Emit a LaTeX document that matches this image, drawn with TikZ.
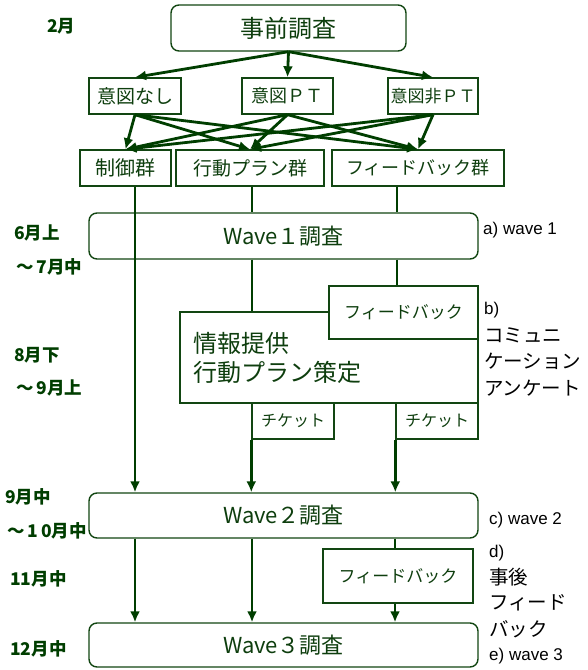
\documentclass[tikz,border=0pt]{standalone}
\usepackage{fontspec}
\newfontfamily\jp{Noto Sans CJK JP}
\newfontfamily\lat{Liberation Sans}
\usetikzlibrary{arrows.meta,calc}
\definecolor{dg}{RGB}{0,62,0}
\definecolor{bdg}{RGB}{18,70,18}
\definecolor{tg}{RGB}{14,62,14}
\begin{document}
\begin{tikzpicture}[x=1pt,y=-1pt,
  box/.style={draw=bdg, line width=1.4pt, fill=white, text=tg, inner sep=0pt, font=\jp},
  rbox/.style={box, rounded corners=8pt},
  arr/.style={draw=dg, line width=2.8pt, -{Latex[length=11pt,width=10pt]}},
  ln/.style={draw=dg, line width=2.8pt},
  mlab/.style={anchor=west, inner sep=0pt, text=dg, font=\jp\bfseries\fontsize{17.5}{19}\selectfont},
  rlab/.style={anchor=west, inner sep=0pt, text=black, font=\lat\fontsize{17}{19}\selectfont},
  rjlab/.style={anchor=west, inner sep=0pt, text=black, font=\jp\fontsize{19.5}{21}\selectfont}]
\useasboundingbox[fill=white] (0,0) rectangle (587,670);

% boxes
\node[rbox, minimum width=235pt, minimum height=46pt, font=\jp\fontsize{24}{26}\selectfont] (pre) at (288.5,28) {事前調査};
\node[box, minimum width=92pt, minimum height=36pt, font=\jp\fontsize{19}{21}\selectfont] (i1) at (135,96) {意図なし};
\node[box, minimum width=91pt, minimum height=36pt, font=\jp\fontsize{18}{21}\selectfont] (i2) at (287.5,96) {意図ＰＴ};
\node[box, minimum width=90pt, minimum height=36pt, font=\jp\fontsize{17}{21}\selectfont] (i3) at (433,96) {意図非ＰＴ};
\node[box, minimum width=91pt, minimum height=36pt, font=\jp\fontsize{20}{22}\selectfont] (g1) at (125.5,168) {制御群};
\node[box, minimum width=148pt, minimum height=36pt, font=\jp\fontsize{19}{22}\selectfont] (g2) at (250,168) {行動プラン群};
\node[box, minimum width=172pt, minimum height=36pt, font=\jp\fontsize{18}{22}\selectfont] (g3) at (418,168) {フィードバック群};
\node[rbox, minimum width=389pt, minimum height=46pt, font=\jp\fontsize{22}{24}\selectfont] (w1) at (283.5,236) {Wave１調査};
\node[box, minimum width=298pt, minimum height=91pt, text width=272pt, align=left, font=\jp\fontsize{24}{29}\selectfont] (info) at (329,357.5) {情報提供\\行動プラン策定};
\node[box, minimum width=149pt, minimum height=53pt, font=\jp\fontsize{17}{19}\selectfont] (fb1) at (403.5,312.5) {フィードバック};
\node[box, minimum width=82pt, minimum height=36pt, font=\jp\fontsize{16}{18}\selectfont] (t1) at (293,421) {チケット};
\node[box, minimum width=82pt, minimum height=36pt, font=\jp\fontsize{16}{18}\selectfont] (t2) at (437,421) {チケット};
\node[rbox, minimum width=389pt, minimum height=45pt, font=\jp\fontsize{22}{24}\selectfont] (w2) at (283.5,515.5) {Wave２調査};
\node[box, minimum width=150pt, minimum height=54pt, font=\jp\fontsize{17}{19}\selectfont] (fb2) at (398,576) {フィードバック};
\node[rbox, minimum width=389pt, minimum height=44pt, font=\jp\fontsize{22}{24}\selectfont] (w3) at (283.5,645) {Wave３調査};

% column coordinates
\coordinate (L1) at (135,0);
\coordinate (L2) at (252,0);
\coordinate (L3) at (397,0);
\coordinate (L4) at (395,0);

% arrows top
\foreach \t in {i1,i2,i3} \draw[arr] (pre.south) -- (\t.north);
\foreach \s in {i1,i2,i3} \foreach \t in {g1,g2,g3} \draw[arr] (\s.south) -- (\t.north);

% verticals
\draw[arr] (g1.south -| L1) -- (w2.north -| L1);
\draw[ln] (g2.south -| L2) -- (w1.north -| L2);
\draw[ln] (w1.south -| L2) -- (info.north -| L2);
\draw[ln] (g3.south -| L3) -- (w1.north -| L3);
\draw[ln] (w1.south -| L3) -- (fb1.north -| L3);
\draw[arr] (t1.south west) -- (t1.south west |- w2.north);
\draw[arr] (t2.south west) -- (t2.south west |- w2.north);
\draw[arr] (w2.south -| L1) -- (w3.north -| L1);
\draw[arr] (w2.south -| L2) -- (w3.north -| L2);
\draw[ln] (w2.south -| L4) -- (fb2.north -| L4);
\draw[arr] (fb2.south -| L4) -- (w3.north -| L4);

% left month labels
\node[mlab] (m1) at (47,26) {2月};
\node[mlab] (m2) at (14,233) {6月上};
\node[mlab] (m3) at (16,267) {～\,7月中};
\node[mlab] (m4) at (14,355) {8月下};
\node[mlab] (m5) at (16,388) {～\,9月上};
\node[mlab] (m6) at (5,497) {9月中};
\node[mlab] (m7) at (7,531) {～\,1\,0月中};
\node[mlab] (m8) at (10,579) {11月中};
\node[mlab] (m9) at (10,649) {12月中};

% right labels
\node[rlab] (ra) at (483,230) {a)\ wave 1};
\node[rlab] (rb) at (484,310) {b)};
\node[rjlab] (rb1) at (484,335) {コミュニ};
\node[rjlab] (rb2) at (484,361) {ケーション};
\node[rjlab] (rb3) at (484,388) {アンケート};
\node[rlab] (rc) at (489,520) {c)\ wave 2};
\node[rlab] (rd) at (489,553) {d)};
\node[rjlab] (rd1) at (489,577) {事後};
\node[rjlab] (rd2) at (489,603) {フィード};
\node[rjlab] (rd3) at (489,629) {バック};
\node[rlab] (re) at (489,656) {e)\ wave 3};
\end{tikzpicture}
\end{document}
